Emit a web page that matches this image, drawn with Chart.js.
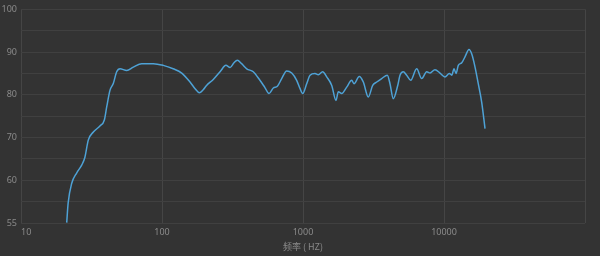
<!DOCTYPE html>
<html>
<head>
<meta charset="utf-8">
<script src="https://cdn.jsdelivr.net/npm/chart.js@4/dist/chart.umd.min.js"></script>
<style>
    html, body { margin: 0; padding: 0; background: #333333; }
    #wrap { position: relative; width: 600px; height: 256px; }
</style>
</head>
<body>
<div id="wrap"><canvas id="freqChart"></canvas></div>
<script>
// --- DATA ---
const freqs = [21.1, 21.6, 22.9, 24.8, 27.0, 28.4, 30.0, 32.6, 36.3, 39.0, 40.5, 42.8, 45.2, 47.7, 50.4,
    56.2, 62.6, 71.8, 86.8, 102, 120, 138, 158, 171, 184, 196, 207, 231, 258, 284, 304, 324, 342, 367,
    399, 444, 495, 537, 574, 616, 658, 706, 766, 832, 902, 952, 995, 1062, 1122, 1217, 1284, 1379, 1473,
    1599, 1714, 1780, 1881, 2042, 2215, 2300, 2507, 2678, 2904, 3120, 3334, 3615, 3963, 4140, 4367, 4697,
    4875, 5143, 5435, 5808, 6400, 6950, 7536, 7960, 8630, 9370, 10160, 10910, 11350, 11780, 12170, 12630,
    13360, 14090, 15040, 15710, 16600, 17500, 18500, 19540];
const spl = [50.1, 54.7, 59.3, 61.7, 63.6, 65.4, 69.4, 71.3, 72.7, 74.1, 77.1, 81.1, 82.7, 85.4, 86.1,
    85.7, 86.5, 87.3, 87.3, 86.9, 86.1, 85.1, 83.0, 81.5, 80.5, 81.2, 82.2, 83.6, 85.4, 86.9, 86.4, 87.5, 88.1, 87.3,
    86.1, 85.4, 83.4, 81.7, 80.3, 81.6, 82.0, 83.8, 85.6, 85.1, 83.4, 81.5, 80.3, 82.6, 84.6, 85.0, 84.7, 85.4, 84.2,
    82.2, 78.7, 80.7, 80.3, 81.8, 83.4, 82.6, 84.3, 83.0, 79.5, 82.2, 83.0, 83.8, 84.6, 82.6, 79.1, 82.2,
    84.6, 85.4, 84.6, 83.4, 86.1, 83.8, 85.4, 85.1, 85.9, 85.1, 84.2, 85.0, 84.6, 86.1, 85.0, 86.9,
    87.5, 88.9, 90.6, 89.6, 86.5, 82.6, 78.3, 72.1];
const xTicks = [10, 100, 1000, 10000, 100000];
const yTicks = [50, 55, 60, 65, 70, 75, 80, 85, 90, 95, 100];
const yLabels = { 50: '55', 60: '60', 70: '70', 80: '80', 90: '90', 100: '100' };
const xTitle = '频率 ( HZ)';

document.addEventListener('DOMContentLoaded', () => {
    initChart();
});

// --- CHART.JS ---
function initChart() {
    const ctx = document.getElementById('freqChart').getContext('2d');
    const points = freqs.map((f, i) => ({ x: f, y: spl[i] }));
    const tickFont = { family: 'Noto Sans', size: 9 };

    new Chart(ctx, {
        type: 'line',
        data: {
            datasets: [{
                data: points,
                borderColor: '#4ea2d6',
                borderWidth: 1.5,
                pointRadius: 0,
                fill: false,
                cubicInterpolationMode: 'monotone'
            }]
        },
        options: {
            responsive: true,
            maintainAspectRatio: false,
            animation: false,
            layout: { padding: { top: 9, right: 15, left: 0, bottom: 0 } },
            plugins: {
                legend: { display: false },
                tooltip: { enabled: false }
            },
            scales: {
                x: {
                    type: 'logarithmic',
                    min: 10,
                    max: 100000,
                    afterBuildTicks: axis => { axis.ticks = xTicks.map(v => ({ value: v })); },
                    afterFit: axis => { axis.height = 33; },
                    grid: { color: '#454545', drawTicks: false },
                    border: { display: false },
                    ticks: {
                        color: '#8a8a8a',
                        font: tickFont,
                        padding: 4,
                        align: 'inner',
                        maxRotation: 0,
                        autoSkip: false,
                        callback: v => (v === 100000 ? '' : String(v))
                    },
                    title: {
                        display: true,
                        text: xTitle,
                        color: '#8a8a8a',
                        font: { family: 'Noto Sans CJK SC', size: 9 },
                        padding: { top: 0, bottom: 4 }
                    }
                },
                y: {
                    min: 50,
                    max: 100,
                    afterBuildTicks: axis => { axis.ticks = yTicks.map(v => ({ value: v })); },
                    afterFit: axis => { axis.width = 21; },
                    grid: { color: '#404040', drawTicks: false },
                    border: { display: false },
                    ticks: {
                        color: '#8a8a8a',
                        font: tickFont,
                        padding: 4,
                        autoSkip: false,
                        callback: v => yLabels[v] || ''
                    }
                }
            }
        }
    });
}
</script>
</body>
</html>
